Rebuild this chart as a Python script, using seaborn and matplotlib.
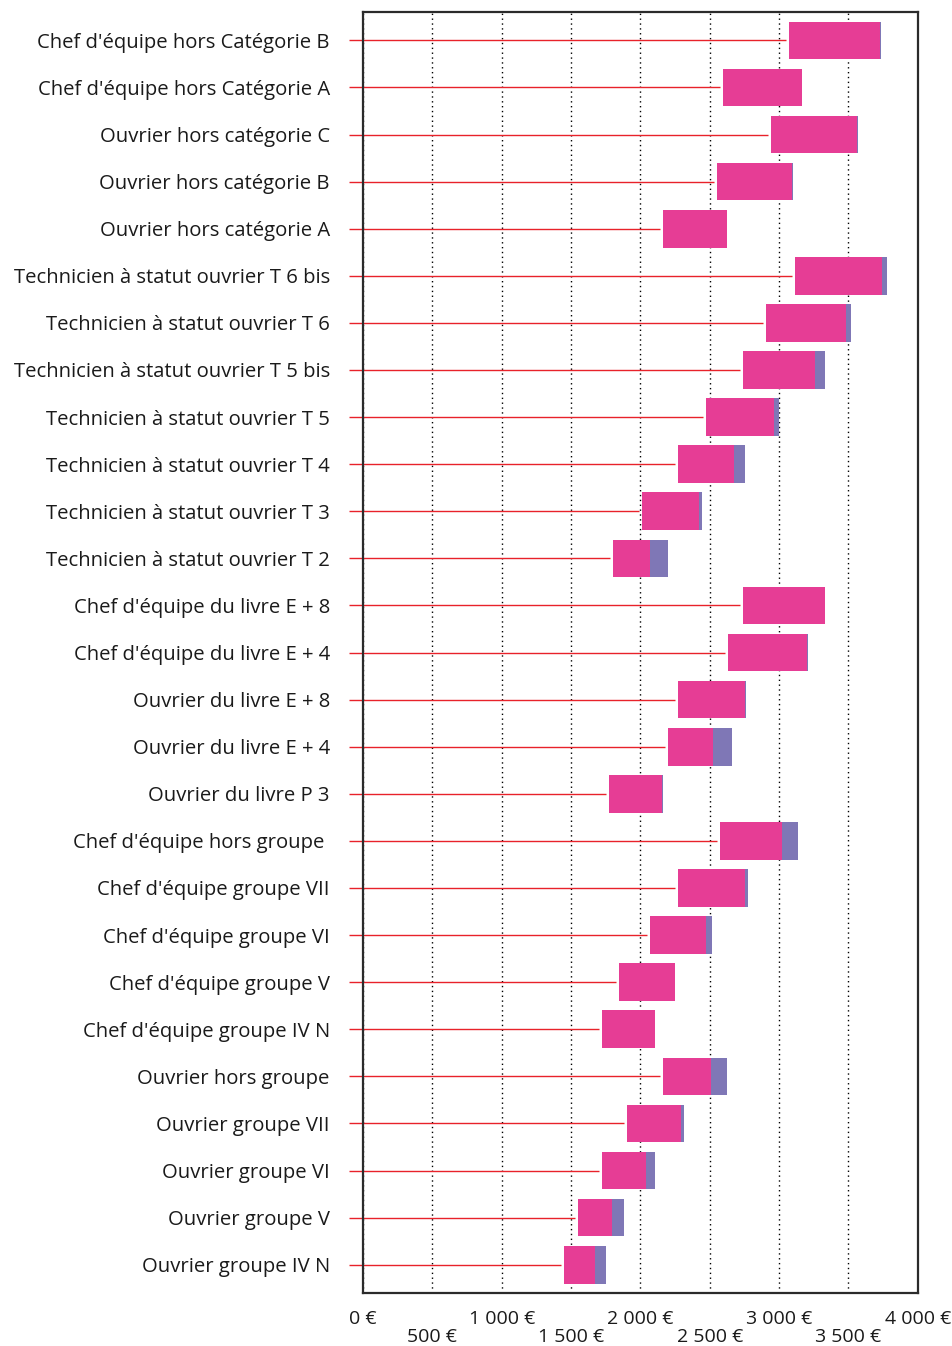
import numpy as np
import pandas as pd
import matplotlib
matplotlib.use("Agg")
import matplotlib.pyplot as plt
import seaborn as sns

categories = [
    "Chef d'équipe hors Catégorie B",
    "Chef d'équipe hors Catégorie A",
    "Ouvrier hors catégorie C",
    "Ouvrier hors catégorie B",
    "Ouvrier hors catégorie A",
    "Technicien à statut ouvrier T 6 bis",
    "Technicien à statut ouvrier T 6",
    "Technicien à statut ouvrier T 5 bis",
    "Technicien à statut ouvrier T 5",
    "Technicien à statut ouvrier T 4",
    "Technicien à statut ouvrier T 3",
    "Technicien à statut ouvrier T 2",
    "Chef d'équipe du livre E + 8",
    "Chef d'équipe du livre E + 4",
    "Ouvrier du livre E + 8",
    "Ouvrier du livre E + 4",
    "Ouvrier du livre P 3",
    "Chef d'équipe hors groupe ",
    "Chef d'équipe groupe VII",
    "Chef d'équipe groupe VI",
    "Chef d'équipe groupe V",
    "Chef d'équipe groupe IV N",
    "Ouvrier hors groupe",
    "Ouvrier groupe VII",
    "Ouvrier groupe VI",
    "Ouvrier groupe V",
    "Ouvrier groupe IV N",
]

# start of range (€)
debut = [3069, 2599, 2944, 2555, 2165, 3118, 2903, 2743, 2475, 2268, 2013, 1804,
         2737, 2635, 2273, 2196, 1776, 2577, 2273, 2066, 1848, 1726, 2165, 1906,
         1726, 1552, 1450]
# end of pink segment (€)
fin_rose = [3731, 3163, 3560, 3096, 2621, 3740, 3480, 3262, 2966, 2674, 2425, 2066,
            3328, 3204, 2756, 2527, 2157, 3024, 2751, 2475, 2248, 2102, 2511, 2295,
            2041, 1798, 1674]
# end of purple segment (€)
fin_violet = [3736, 3168, 3566, 3099, 2626, 3781, 3516, 3328, 3002, 2751, 2447, 2196,
              3331, 3207, 2762, 2657, 2162, 3140, 2773, 2513, 2252, 2106, 2621, 2317,
              2102, 1881, 1754]

x_ticks = [0, 500, 1000, 1500, 2000, 2500, 3000, 3500, 4000]
x_tick_labels = ["0 €", "500 €", "1 000 €", "1 500 €", "2 000 €", "2 500 €",
                 "3 000 €", "3 500 €", "4 000 €"]

PINK = "#e63d95"
PURPLE = "#7f77b6"
RED = "#e8222a"

sns.set_theme(style="white")
plt.rcParams["font.family"] = ["Open Sans", "DejaVu Sans"]

df = pd.DataFrame({
    "cat": categories,
    "debut": np.array(debut, float),
    "rose": np.array(fin_rose, float) - np.array(debut, float),
    "violet": np.array(fin_violet, float) - np.array(fin_rose, float),
})

fig = plt.figure(figsize=(9.53, 13.46), dpi=100)
ax = fig.add_axes([0.381, 0.0394, 0.582, 0.9516])

sns.barplot(data=df, x="rose", y="cat", order=categories, orient="y",
            left=df["debut"].values, color=PINK, saturation=1, width=0.8,
            linewidth=0, ax=ax, zorder=3)
sns.barplot(data=df, x="violet", y="cat", order=categories, orient="y",
            left=(df["debut"] + df["rose"]).values, color=PURPLE, saturation=1,
            width=0.8, linewidth=0, ax=ax, zorder=3)

# leader lines from label to range start
ypos = np.arange(len(categories))
ax.hlines(ypos, -100, df["debut"].values - 22, color=RED, linewidth=1.0,
          clip_on=False, zorder=2)

ax.set_xlim(0, 4000)
ax.set_ylim(len(categories) - 0.4, -0.6)
ax.set_xticks(x_ticks)
ax.set_xticklabels([("\n" + l) if i % 2 else l for i, l in enumerate(x_tick_labels)],
                   fontsize=14, linespacing=1.05)
ax.tick_params(axis="x", length=0, pad=12, colors="#1a1a1a")
ax.tick_params(axis="y", length=0, pad=24, labelsize=14.6, colors="#1a1a1a")
ax.set_xlabel("")
ax.set_ylabel("")

ax.set_axisbelow(True)
ax.grid(axis="x", linestyle=(0, (1, 2.5)), color="black", linewidth=1.0, zorder=0)
ax.grid(axis="y", visible=False)
for s in ax.spines.values():
    s.set_visible(True)
    s.set_color("#2b2b2b")
    s.set_linewidth(1.6)

fig.savefig("out.png", dpi=100, facecolor="white")
